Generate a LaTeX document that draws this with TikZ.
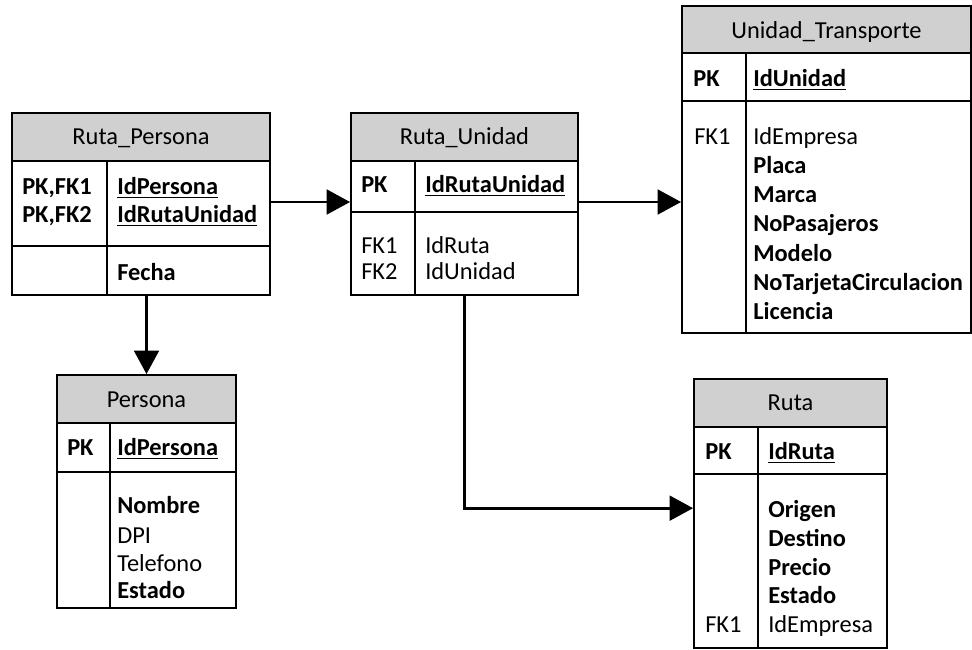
\documentclass[tikz,border=0pt]{standalone}
\usepackage{fontspec}
\setmainfont{Carlito}
\usetikzlibrary{arrows.meta,fit}
\definecolor{hdrgray}{RGB}{208,208,208}
\newcommand\pkul[1]{\setbox0\hbox{#1}\rlap{\rule[-2.6pt]{\wd0}{1pt}}\box0}
\newcommand\erbox[8]{%
  \fill[hdrgray] (#2,#3) rectangle (#4,#7);
  \draw[tline] (#2,#7) -- (#4,#7) (#2,#8) -- (#4,#8) (#6,#7) -- (#6,#5);
  \node[tbox, fit={(#2,#3) (#4,#5)}] (#1) {};
}
\tikzset{
  tline/.style={line width=1.4pt},
  tbox/.style={draw, tline, inner sep=0pt},
  arr/.style={line width=2pt, -{Triangle[length=17.5pt,width=18.5pt]}},
  txt/.style={inner sep=0pt, text height=11.8pt, text depth=0pt, font=\fontsize{18.3pt}{21.75pt}\selectfont},
  ttl/.style={txt, anchor=center},
  rt/.style={txt, anchor=west},
  bt/.style={rt, font=\fontsize{18.3pt}{21.75pt}\selectfont\bfseries},
}
\begin{document}
\begin{tikzpicture}[x=0.75pt,y=-0.75pt]
\useasboundingbox (0,0) rectangle (972,650);
% tables
\erbox{rp}{12}{113}{270}{295}{107}{161}{246}
\erbox{ru}{351}{113}{578}{295}{415}{161}{212}
\erbox{ut}{682}{6}{971}{333}{746}{53}{101}
\erbox{pe}{57}{375}{236}{608}{110}{423}{472}
\erbox{rt}{694}{379}{887}{648}{758}{427}{474}
% Ruta_Persona
\node[ttl] (rp-t) at (141,137) {Ruta\_Persona};
\node[bt] (rp-k1) at (22,187) {PK,FK1};
\node[bt] (rp-k2) at (22,215) {PK,FK2};
\node[bt] (rp-f1) at (117,187) {\pkul{IdPersona}};
\node[bt] (rp-f2) at (117,215) {\pkul{IdRutaUnidad}};
\node[bt] (rp-f3) at (117,273) {Fecha};
% Ruta_Unidad
\node[ttl] (ru-t) at (464.5,137) {Ruta\_Unidad};
\node[bt] (ru-k1) at (361,185) {PK};
\node[bt] (ru-f1) at (425,185) {\pkul{IdRutaUnidad}};
\node[rt] (ru-k2) at (361,246) {FK1};
\node[rt] (ru-f2) at (425,246) {IdRuta};
\node[rt] (ru-k3) at (361,272) {FK2};
\node[rt] (ru-f3) at (425,272) {IdUnidad};
% Unidad_Transporte
\node[ttl] (ut-t) at (826.5,31) {Unidad\_Transporte};
\node[bt] (ut-k1) at (693,79) {PK};
\node[bt] (ut-f1) at (753,79) {\pkul{IdUnidad}};
\node[rt] (ut-k2) at (694,137) {FK1};
\node[rt] (ut-f2) at (753,137) {IdEmpresa};
\node[bt] (ut-f3) at (753,166) {Placa};
\node[bt] (ut-f4) at (753,195) {Marca};
\node[bt] (ut-f5) at (753,224) {NoPasajeros};
\node[bt] (ut-f6) at (753,254) {Modelo};
\node[bt] (ut-f7) at (753,283) {NoTarjetaCirculacion};
\node[bt] (ut-f8) at (753,312) {Licencia};
% Persona
\node[ttl] (pe-t) at (146.5,400) {Persona};
\node[bt] (pe-k1) at (67,448) {PK};
\node[bt] (pe-f1) at (117,448) {\pkul{IdPersona}};
\node[bt] (pe-f2) at (117,506) {Nombre};
\node[rt] (pe-f3) at (117,536) {DPI};
\node[rt] (pe-f4) at (117,564) {Telefono};
\node[bt] (pe-f5) at (117,591) {Estado};
% Ruta
\node[ttl] (rt-t) at (790.5,403) {Ruta};
\node[bt] (rt-k1) at (705,452) {PK};
\node[bt] (rt-f1) at (768,452) {\pkul{IdRuta}};
\node[bt] (rt-f2) at (768,510) {Origen};
\node[bt] (rt-f3) at (768,539) {Destino};
\node[bt] (rt-f4) at (768,568) {Precio};
\node[bt] (rt-f5) at (768,596) {Estado};
\node[rt] (rt-k2) at (705,625) {FK1};
\node[rt] (rt-f6) at (768,625) {IdEmpresa};
% connectors
\draw[arr] ([yshift=1.5pt]rp.east) -- ([yshift=1.5pt]ru.west);
\draw[arr] ([yshift=1.5pt]ru.east) -- ([yshift=1.5pt]ru.east -| ut.west);
\draw[arr] (rp.south -| pe.north) -- (pe.north);
\draw[arr] (ru.south) |- ([yshift=4pt]rt.west);
\end{tikzpicture}
\end{document}
